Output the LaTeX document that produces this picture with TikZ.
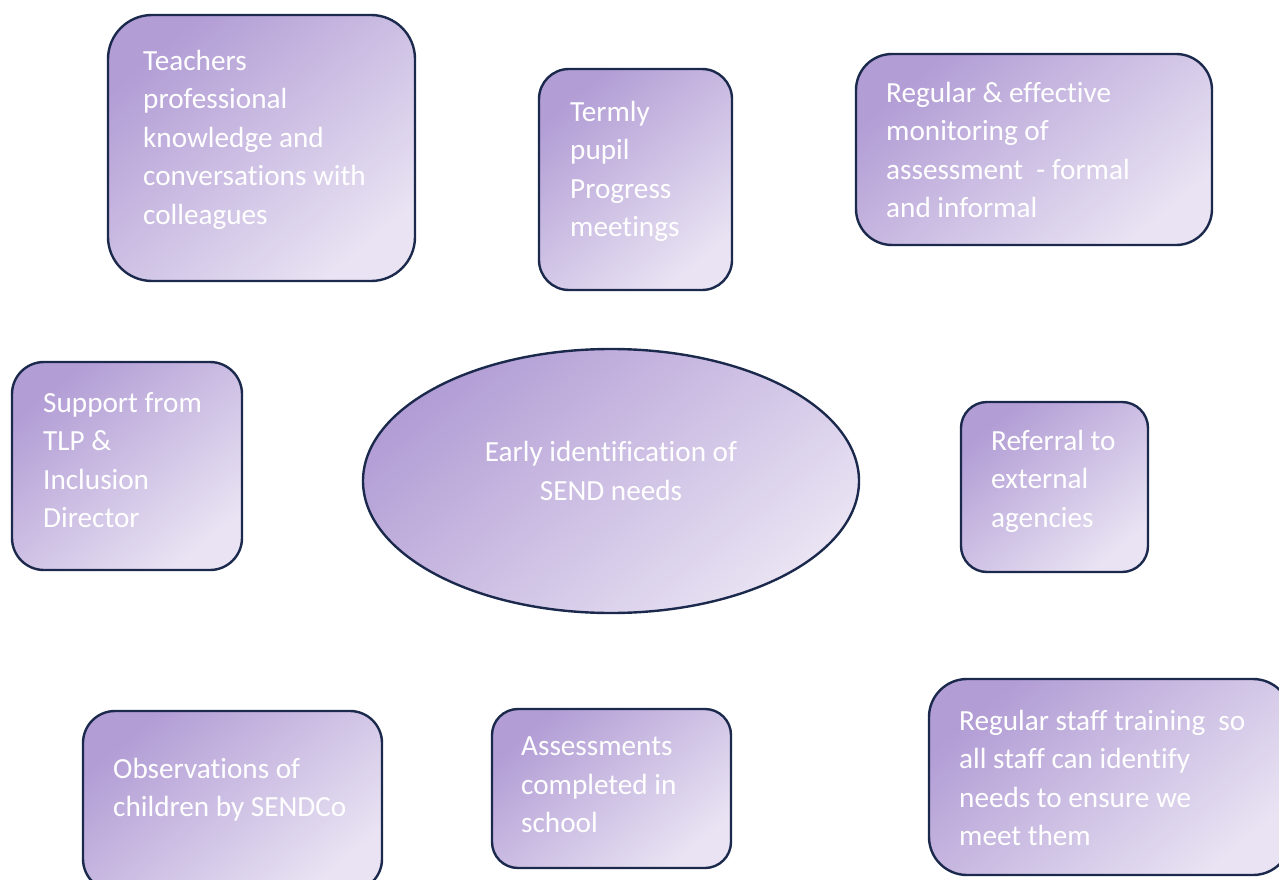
\documentclass[tikz,border=0pt]{standalone}
\usepackage{fontspec}
\setmainfont{Carlito}[Ligatures=NoCommon]
\usetikzlibrary{positioning,shapes.geometric}
\definecolor{lilacdark}{RGB}{178,157,213}
\definecolor{lilaclight}{RGB}{233,227,243}
\definecolor{edgenavy}{RGB}{27,41,76}

\tikzset{
  bubble/.style={draw=edgenavy, line width=2.4pt, inner sep=0pt,
    top color=lilacdark, bottom color=lilaclight, shading angle=40},
  blurb/.style={text=white, font=\fontsize{29.2}{38.5}\selectfont,
    align=left, anchor=north west, inner sep=0pt},
}

\begin{document}
\begin{tikzpicture}[x=1pt,y=-1pt]
  \useasboundingbox (0,0) rectangle (1279,880);
  % boxes round the centre
  \node[bubble, rectangle, rounded corners=44pt, minimum width=307pt, minimum height=266pt] (teachers) at (261.5,148) {};
  \node[bubble, rectangle, rounded corners=30pt, minimum width=193pt, minimum height=221pt] (termly) at (635.5,179.5) {};
  \node[bubble, rectangle, rounded corners=36pt, minimum width=356pt, minimum height=191pt] (monitor) at (1034,149.5) {};
  \node[bubble, rectangle, rounded corners=32pt, minimum width=230pt, minimum height=208pt] (support) at (127,466) {};
  \node[bubble, ellipse, minimum width=496pt, minimum height=264pt] (core) at (611,481) {};
  \node[bubble, rectangle, rounded corners=26pt, minimum width=187pt, minimum height=170pt] (referral) at (1054.5,487) {};
  \node[bubble, rectangle, rounded corners=32pt, minimum width=299pt, minimum height=180pt] (observe) at (232.5,801) {};
  \node[bubble, rectangle, rounded corners=26pt, minimum width=239pt, minimum height=159pt] (assess) at (611.5,788.5) {};
  \node[bubble, rectangle, rounded corners=38pt, minimum width=362pt, minimum height=196pt] (training) at (1110,777) {};

  % texts
  \node[blurb] (teachers-txt) at (143,50) {Teachers\\professional\\knowledge and\\conversations with\\colleagues};
  \node[blurb] (termly-txt) at (570,101) {Termly\\pupil\\Progress\\meetings};
  \node[blurb] (monitor-txt) at (886,82) {Regular \& effective\\monitoring of\\assessment~~- formal\\and informal};
  \node[blurb] (support-txt) at (43,392) {Support from\\TLP \&\\Inclusion\\Director};
  \node[blurb, align=center, anchor=center] (core-txt) at (611,471) {Early identification of\\SEND needs};
  \node[blurb] (referral-txt) at (991,430) {Referral to\\external\\agencies};
  \node[blurb] (observe-txt) at (113,758) {Observations of\\children by SENDCo};
  \node[blurb] (assess-txt) at (521,737) {Assessments\\completed in\\school};
  \node[blurb] (training-txt) at (959,710) {Regular staff training~~so\\all staff can identify\\needs to ensure we\\meet them};
\end{tikzpicture}
\end{document}
